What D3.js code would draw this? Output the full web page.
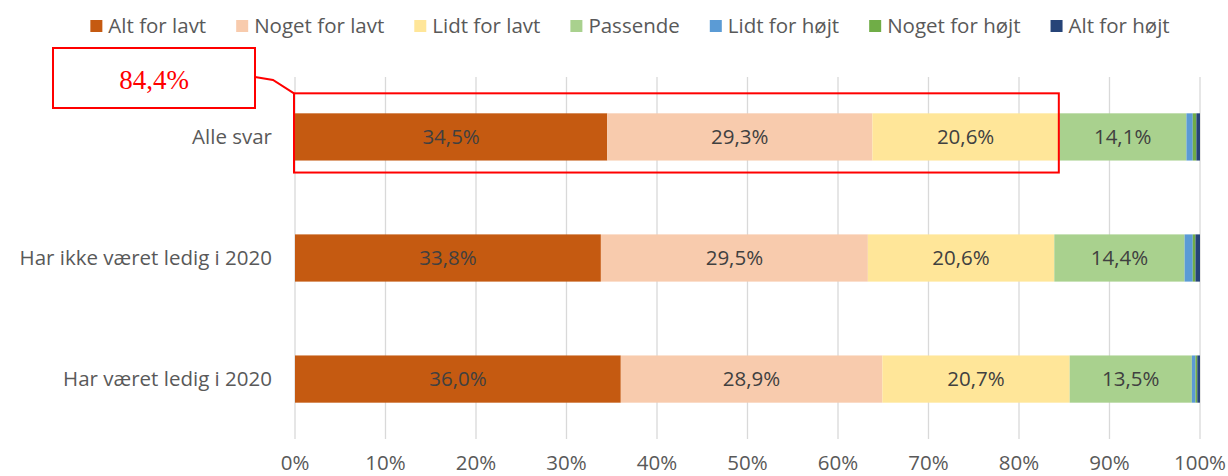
<!DOCTYPE html>
<html>
<head>
<meta charset="utf-8">
<script src="https://cdn.jsdelivr.net/npm/d3@7"></script>
<style>
  body { margin: 0; background: #fff; }
  text { font-family: "Open Sans", "Noto Sans", sans-serif; }
</style>
</head>
<body>
<svg width="1228" height="476"></svg>
<script>
// categories (top to bottom)
var groups = ["Alle svar", "Har ikke været ledig i 2020", "Har været ledig i 2020"]
var answers = ["Alt for lavt", "Noget for lavt", "Lidt for lavt", "Passende", "Lidt for højt", "Noget for højt", "Alt for højt"]
var colors = ["#C55A11", "#F8CBAD", "#FFE699", "#A9D18E", "#5B9BD5", "#70AD47", "#264478"]

// percentages per answer, one value per group
var altForLavt    = [34.5, 33.8, 36.0]
var nogetForLavt  = [29.3, 29.5, 28.9]
var lidtForLavt   = [20.6, 20.6, 20.7]
var passende      = [14.1, 14.4, 13.5]
var lidtForHojt   = [0.7, 0.9, 0.4]
var nogetForHojt  = [0.4, 0.3, 0.2]
var altForHojt    = [0.4, 0.5, 0.3]

var xTicks = [0, 10, 20, 30, 40, 50, 60, 70, 80, 90, 100]

var series = [altForLavt, nogetForLavt, lidtForLavt, passende, lidtForHojt, nogetForHojt, altForHojt]

var svg = d3.select("svg"),
    width = +svg.attr("width"),
    height = +svg.attr("height")

var fontSize = "20.5px"

var da = d3.formatLocale({decimal: ",", thousands: ".", grouping: [3], currency: ["", " kr"]})
var fmt = function(v){ return da.format(".1f")(v) + "%" }

// build rows for the stack
var rows = groups.map(function(g, i){
  var r = {group: g}
  answers.forEach(function(a, j){ r[a] = series[j][i] })
  return r
})
var stacked = d3.stack().keys(answers)(rows)

var x = d3.scaleLinear().domain([0, 100]).range([295, 1200])
var y = d3.scaleBand().domain(groups).range([77, 439]).paddingInner(0.61).paddingOuter(0.3)

// gridlines
svg.append("g")
  .selectAll("line")
  .data(xTicks)
  .enter()
  .append("line")
    .attr("x1", function(d){ return x(d) })
    .attr("x2", function(d){ return x(d) })
    .attr("y1", 77)
    .attr("y2", 439)
    .attr("stroke", "#D9D9D9")
    .attr("stroke-width", 1.3)

// x tick labels
svg.append("g")
  .selectAll("text")
  .data(xTicks)
  .enter()
  .append("text")
    .attr("x", function(d){ return x(d) })
    .attr("y", 470)
    .attr("text-anchor", "middle")
    .style("font-size", fontSize)
    .style("fill", "#595959")
    .text(function(d){ return d + "%" })

// category labels
svg.append("g")
  .selectAll("text")
  .data(groups)
  .enter()
  .append("text")
    .attr("x", 272)
    .attr("y", function(d){ return y(d) + y.bandwidth()/2 })
    .attr("dy", "0.35em")
    .attr("text-anchor", "end")
    .style("font-size", fontSize)
    .style("fill", "#595959")
    .text(function(d){ return d })

// bars
var layer = svg.append("g")
  .selectAll("g")
  .data(stacked)
  .enter()
  .append("g")
    .attr("fill", function(d, i){ return colors[i] })

layer.selectAll("rect")
  .data(function(d){ return d })
  .enter()
  .append("rect")
    .attr("x", function(d){ return x(d[0]) })
    .attr("y", function(d){ return y(d.data.group) })
    .attr("width", function(d){ return x(d[1]) - x(d[0]) })
    .attr("height", y.bandwidth())

// bar labels (only the first four answers)
layer.filter(function(d, i){ return i < 4 })
  .selectAll("text")
  .data(function(d){ return d })
  .enter()
  .append("text")
    .attr("x", function(d){ return (x(d[0]) + x(d[1])) / 2 })
    .attr("y", function(d){ return y(d.data.group) + y.bandwidth()/2 })
    .attr("dy", "0.35em")
    .attr("text-anchor", "middle")
    .style("font-size", fontSize)
    .style("fill", "#404040")
    .text(function(d){ return fmt(d[1] - d[0]) })

// legend
var legend = svg.append("g")
var lx = 0
answers.forEach(function(a, i){
  var item = legend.append("g").attr("transform", "translate(" + lx + ",0)")
  item.append("rect")
    .attr("x", 0).attr("y", 20)
    .attr("width", 12).attr("height", 12)
    .attr("fill", colors[i])
  var t = item.append("text")
    .attr("x", 18).attr("y", 26)
    .attr("dy", "0.35em")
    .style("font-size", fontSize)
    .style("fill", "#595959")
    .text(a)
  lx += 18 + t.node().getComputedTextLength() + 30
})
var legendW = lx - 30
legend.attr("transform", "translate(" + (630 - legendW/2) + ",0)")

// highlight: sum of the three "for lavt" answers in Alle svar
var lowBar = stacked[2][0]
var sumLow = lowBar[1]
var hx0 = x(0) - 1, hx1 = x(sumLow)
var hy0 = y(groups[0]) - 20, hy1 = y(groups[0]) + y.bandwidth() + 12

svg.append("rect")
  .attr("x", hx0).attr("y", hy0)
  .attr("width", hx1 - hx0).attr("height", hy1 - hy0)
  .attr("fill", "none")
  .attr("stroke", "#FF0000")
  .attr("stroke-width", 2)

svg.append("polyline")
  .attr("points", [[255, 77], [273, 80], [hx0, hy0]].map(function(p){ return p.join(",") }).join(" "))
  .attr("fill", "none")
  .attr("stroke", "#FF0000")
  .attr("stroke-width", 2)

svg.append("rect")
  .attr("x", 53).attr("y", 48)
  .attr("width", 202).attr("height", 60)
  .attr("fill", "white")
  .attr("stroke", "#FF0000")
  .attr("stroke-width", 2)

svg.append("text")
  .attr("x", 154).attr("y", 80)
  .attr("dy", "0.35em")
  .attr("text-anchor", "middle")
  .style("font-family", "'Liberation Serif', 'DejaVu Serif', serif")
  .style("font-size", "27px")
  .style("fill", "#FF0000")
  .text(fmt(sumLow))
</script>
</body>
</html>
